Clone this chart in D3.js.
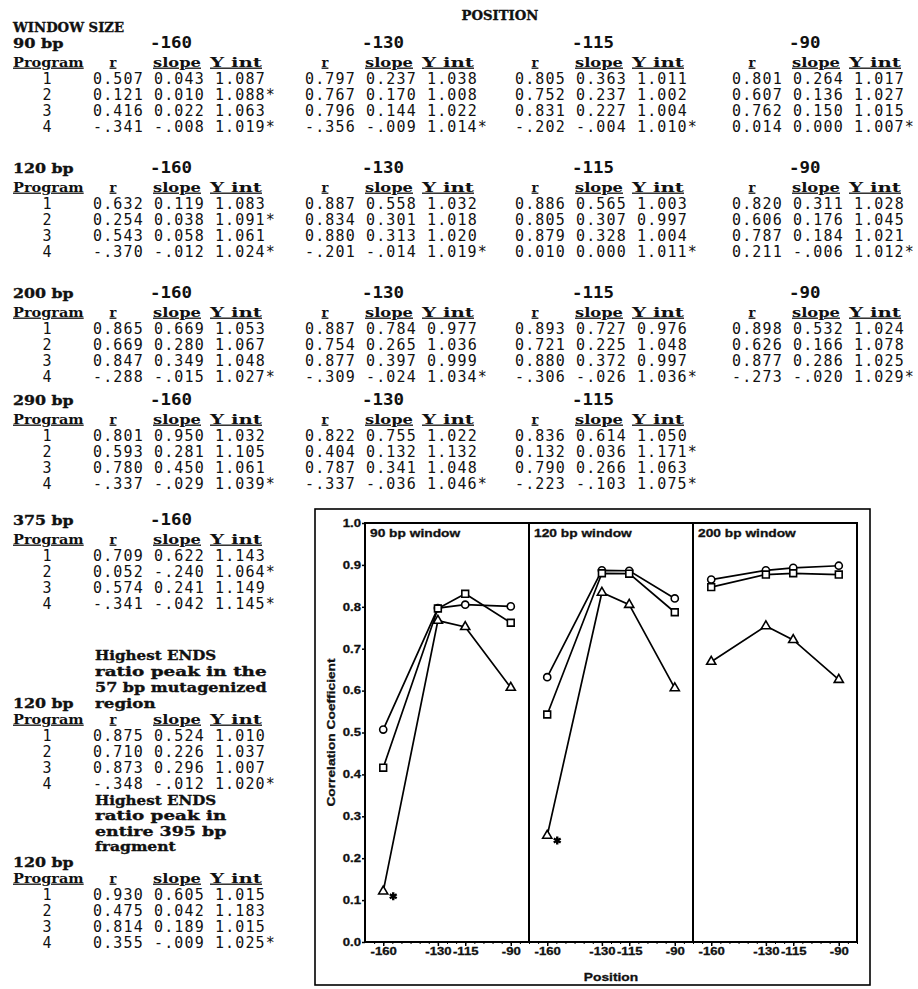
<!DOCTYPE html>
<html>
<head>
<meta charset="utf-8">
<script src="https://cdn.jsdelivr.net/npm/d3@7"></script>
<style>
body { margin: 0; background: #fff; }
svg text { fill: #111; }
.val { font-family: "DejaVu Sans Mono", monospace; font-size: 15px; }
.hd { font-family: "DejaVu Serif", serif; font-weight: bold; font-size: 13.5px; stroke: #111; stroke-width: 0.35px; }
.col { font-family: "DejaVu Serif", serif; font-weight: bold; font-size: 13px; text-decoration: underline; }
.pos { font-family: "DejaVu Sans Mono", monospace; font-weight: bold; font-size: 15px; }
.ax { font-family: "Liberation Sans", Arial, sans-serif; font-weight: bold; font-size: 10.5px; stroke: #111; stroke-width: 0.3px; }
.ttl { font-family: "Liberation Sans", Arial, sans-serif; font-weight: bold; font-size: 11px; stroke: #111; stroke-width: 0.3px; }
</style>
</head>
<body>
<svg id="fig" width="918" height="989"></svg>
<script>
var positions = [-160, -130, -115, -90];
var programs = [1, 2, 3, 4];

// one row per program, one cell per position: [r, slope, Y int, starred]
var bp90 = [
    [[0.507, 0.043, 1.087, 0], [0.797, 0.237, 1.038, 0], [0.805, 0.363, 1.011, 0], [0.801, 0.264, 1.017, 0]],
    [[0.121, 0.010, 1.088, 1], [0.767, 0.170, 1.008, 0], [0.752, 0.237, 1.002, 0], [0.607, 0.136, 1.027, 0]],
    [[0.416, 0.022, 1.063, 0], [0.796, 0.144, 1.022, 0], [0.831, 0.227, 1.004, 0], [0.762, 0.150, 1.015, 0]],
    [[-0.341, -0.008, 1.019, 1], [-0.356, -0.009, 1.014, 1], [-0.202, -0.004, 1.010, 1], [0.014, 0.000, 1.007, 1]]
];
var bp120 = [
    [[0.632, 0.119, 1.083, 0], [0.887, 0.558, 1.032, 0], [0.886, 0.565, 1.003, 0], [0.820, 0.311, 1.028, 0]],
    [[0.254, 0.038, 1.091, 1], [0.834, 0.301, 1.018, 0], [0.805, 0.307, 0.997, 0], [0.606, 0.176, 1.045, 0]],
    [[0.543, 0.058, 1.061, 0], [0.880, 0.313, 1.020, 0], [0.879, 0.328, 1.004, 0], [0.787, 0.184, 1.021, 0]],
    [[-0.370, -0.012, 1.024, 1], [-0.201, -0.014, 1.019, 1], [0.010, 0.000, 1.011, 1], [0.211, -0.006, 1.012, 1]]
];
var bp200 = [
    [[0.865, 0.669, 1.053, 0], [0.887, 0.784, 0.977, 0], [0.893, 0.727, 0.976, 0], [0.898, 0.532, 1.024, 0]],
    [[0.669, 0.280, 1.067, 0], [0.754, 0.265, 1.036, 0], [0.721, 0.225, 1.048, 0], [0.626, 0.166, 1.078, 0]],
    [[0.847, 0.349, 1.048, 0], [0.877, 0.397, 0.999, 0], [0.880, 0.372, 0.997, 0], [0.877, 0.286, 1.025, 0]],
    [[-0.288, -0.015, 1.027, 1], [-0.309, -0.024, 1.034, 1], [-0.306, -0.026, 1.036, 1], [-0.273, -0.020, 1.029, 1]]
];
var bp290 = [
    [[0.801, 0.950, 1.032, 0], [0.822, 0.755, 1.022, 0], [0.836, 0.614, 1.050, 0]],
    [[0.593, 0.281, 1.105, 0], [0.404, 0.132, 1.132, 0], [0.132, 0.036, 1.171, 1]],
    [[0.780, 0.450, 1.061, 0], [0.787, 0.341, 1.048, 0], [0.790, 0.266, 1.063, 0]],
    [[-0.337, -0.029, 1.039, 1], [-0.337, -0.036, 1.046, 1], [-0.223, -0.103, 1.075, 1]]
];
var bp375 = [
    [[0.709, 0.622, 1.143, 0]],
    [[0.052, -0.240, 1.064, 1]],
    [[0.574, 0.241, 1.149, 0]],
    [[-0.341, -0.042, 1.145, 1]]
];
var peakMutagenized = [
    [[0.875, 0.524, 1.010, 0]],
    [[0.710, 0.226, 1.037, 0]],
    [[0.873, 0.296, 1.007, 0]],
    [[-0.348, -0.012, 1.020, 1]]
];
var peakFragment = [
    [[0.930, 0.605, 1.015, 0]],
    [[0.475, 0.042, 1.183, 0]],
    [[0.814, 0.189, 1.015, 0]],
    [[0.355, -0.009, 1.025, 1]]
];

var windowNames = ["90 bp", "120 bp", "200 bp", "290 bp", "375 bp"];
var panelNames = ["90 bp window", "120 bp window", "200 bp window"];

var svg = d3.select("#fig");

function fmt(v) {
    var s = d3.format(".3f")(Math.abs(v));
    return v < 0 ? "-" + s.slice(1) : s;
}

// typewriter text: every character takes the same pitch
function label(x, y, s, cls, pitch, anchor) {
    var t = svg.append("text")
        .attr("x", x)
        .attr("y", y)
        .attr("dy", "0.35em")
        .attr("class", cls)
        .text(s);
    if (pitch) t.attr("textLength", s.length * pitch).attr("lengthAdjust", "spacingAndGlyphs");
    if (anchor) t.attr("text-anchor", anchor);
    return t;
}

// chart lettering in the reference is a wide bold face
function widen(sel) {
    sel.each(function() {
        var w = this.getComputedTextLength();
        d3.select(this).attr("textLength", w * 1.25).attr("lengthAdjust", "spacingAndGlyphs");
    });
}

// ---- table ----
var pitch = 10.1;
var groupX = [93, 305, 515, 732];

function drawBlock(rows, yPos, yProg, showPos) {
    label(13, yProg, "Program", "col", pitch);
    rows[0].forEach(function(c, j) {
        var g = groupX[j];
        if (showPos) label(g + 57, yPos, String(positions[j]), "pos", 10.5);
        label(g + 20, yProg, "r", "col", null, "middle");
        label(g + 60, yProg, "slope", "col", 9.6);
        label(g + 117, yProg, "Y int", "col", 10.4);
    });
    rows.forEach(function(row, i) {
        var yy = yProg + 16.3 * (i + 1);
        label(47, yy, String(programs[i]), "val", null, "middle");
        row.forEach(function(c, j) {
            var s = fmt(c[0]) + " " + fmt(c[1]) + " " + fmt(c[2]) + (c[3] ? "*" : "");
            svg.append("text")
                .attr("x", groupX[j]).attr("y", yy).attr("dy", "0.35em")
                .attr("class", "val")
                .attr("textLength", s.length * pitch)
                .attr("lengthAdjust", "spacing")
                .text(s);
        });
    });
}

label(500, 15, "POSITION", "hd", 9.6, "middle");
label(13, 27, "WINDOW SIZE", "hd", pitch);

var blockY = [43, 168, 293, 400, 520];
[bp90, bp120, bp200, bp290, bp375].forEach(function(rows, k) {
    label(13, blockY[k], windowNames[k], "hd", pitch);
    drawBlock(rows, blockY[k], blockY[k] + 19, true);
});

["Highest ENDS", "ratio peak in the", "57 bp mutagenized", "region"].forEach(function(s, i) {
    label(95, 655 + 16 * i, s, "hd", pitch);
});
label(13, 703, "120 bp", "hd", pitch);
drawBlock(peakMutagenized, null, 719, false);

["Highest ENDS", "ratio peak in", "entire 395 bp", "fragment"].forEach(function(s, i) {
    label(95, 800 + 15.5 * i, s, "hd", pitch);
});
label(13, 862, "120 bp", "hd", pitch);
drawBlock(peakFragment, null, 878, false);

// ---- chart ----
var plotLeft = 365, panelW = 164, plotTop = 523, plotBottom = 942;

svg.append("rect")
    .attr("x", 315).attr("y", 509)
    .attr("width", plotLeft + 3 * panelW + 13 - 315)
    .attr("height", 985 - 509)
    .attr("fill", "none").attr("stroke", "#000").attr("stroke-width", 1.6);

var y = d3.scaleLinear().domain([0, 1]).range([plotBottom, plotTop]);
var x = d3.scaleLinear().domain([-170, -80]).range([0, panelW]);

var yAxis = svg.append("g")
    .attr("transform", "translate(" + plotLeft + ",0)")
    .call(d3.axisLeft(y).tickValues(d3.range(0, 11).map(function(d) { return d / 10; }))
        .tickFormat(d3.format(".1f")).tickSize(3).tickPadding(1));
yAxis.select(".domain").remove();
yAxis.selectAll("text").attr("class", "ax").attr("fill", "#111").call(widen);
yAxis.selectAll("line").attr("stroke-width", 1.5);

var series = [
    {prog: 1, shape: d3.symbolCircle, size: 40},
    {prog: 3, shape: d3.symbolSquare, size: 46},
    {prog: 2, shape: d3.symbolTriangle, size: 36}
];

var line = d3.line()
    .x(function(d) { return x(d.pos); })
    .y(function(d) { return y(d.r); });

[bp90, bp120, bp200].forEach(function(rows, p) {
    var g = svg.append("g").attr("transform", "translate(" + (plotLeft + p * panelW) + ",0)");

    var minor = g.append("g")
        .attr("transform", "translate(0," + plotBottom + ")")
        .call(d3.axisBottom(x).tickValues(d3.range(-165, -79, 5)).tickSize(2).tickFormat(""));
    minor.select(".domain").remove();

    var xa = g.append("g")
        .attr("transform", "translate(0," + plotBottom + ")")
        .call(d3.axisBottom(x).tickValues(positions).tickSize(4).tickPadding(2)
            .tickFormat(function(d) { return String(d); }));
    xa.select(".domain").remove();
    xa.selectAll("text").attr("class", "ax").attr("fill", "#111").call(widen);
    xa.selectAll("line").attr("stroke-width", 1.5);

    g.append("rect")
        .attr("x", 0).attr("y", plotTop)
        .attr("width", panelW).attr("height", plotBottom - plotTop)
        .attr("fill", "none").attr("stroke", "#000").attr("stroke-width", 2);

    g.append("text")
        .attr("class", "ttl")
        .attr("x", 5).attr("y", plotTop + 10).attr("dy", "0.35em")
        .text(panelNames[p])
        .call(widen);

    series.forEach(function(s) {
        var pts = positions.map(function(pos, j) {
            var c = rows[s.prog - 1][j];
            return {pos: pos, r: c[0], star: c[3]};
        });
        g.append("path")
            .attr("d", line(pts))
            .attr("fill", "none").attr("stroke", "#000").attr("stroke-width", 1.7);
        g.selectAll(null)
            .data(pts)
            .enter()
            .append("path")
            .attr("transform", function(d) { return "translate(" + x(d.pos) + "," + y(d.r) + ")"; })
            .attr("d", d3.symbol().type(s.shape).size(s.size))
            .attr("fill", "#fff").attr("stroke", "#000").attr("stroke-width", 1.6);
        // non-significant fits carry an asterisk next to the point
        g.selectAll(null)
            .data(pts.filter(function(d) { return d.star; }))
            .enter()
            .append("path")
            .attr("transform", function(d) { return "translate(" + (x(d.pos) + 10) + "," + (y(d.r) + 5) + ")"; })
            .attr("d", d3.symbol().type(d3.symbolAsterisk).size(45))
            .attr("fill", "none").attr("stroke", "#000").attr("stroke-width", 2.4);
    });
});

svg.append("text")
    .attr("class", "ttl")
    .attr("transform", "translate(331," + ((plotTop + plotBottom) / 2) + ") rotate(-90)")
    .attr("text-anchor", "middle")
    .attr("dy", "0.35em")
    .text("Correlation Coefficient")
    .call(widen);

svg.append("text")
    .attr("class", "ttl")
    .attr("x", plotLeft + 1.5 * panelW)
    .attr("y", 977)
    .attr("dy", "0.35em")
    .attr("text-anchor", "middle")
    .text("Position")
    .call(widen);
</script>
</body>
</html>
